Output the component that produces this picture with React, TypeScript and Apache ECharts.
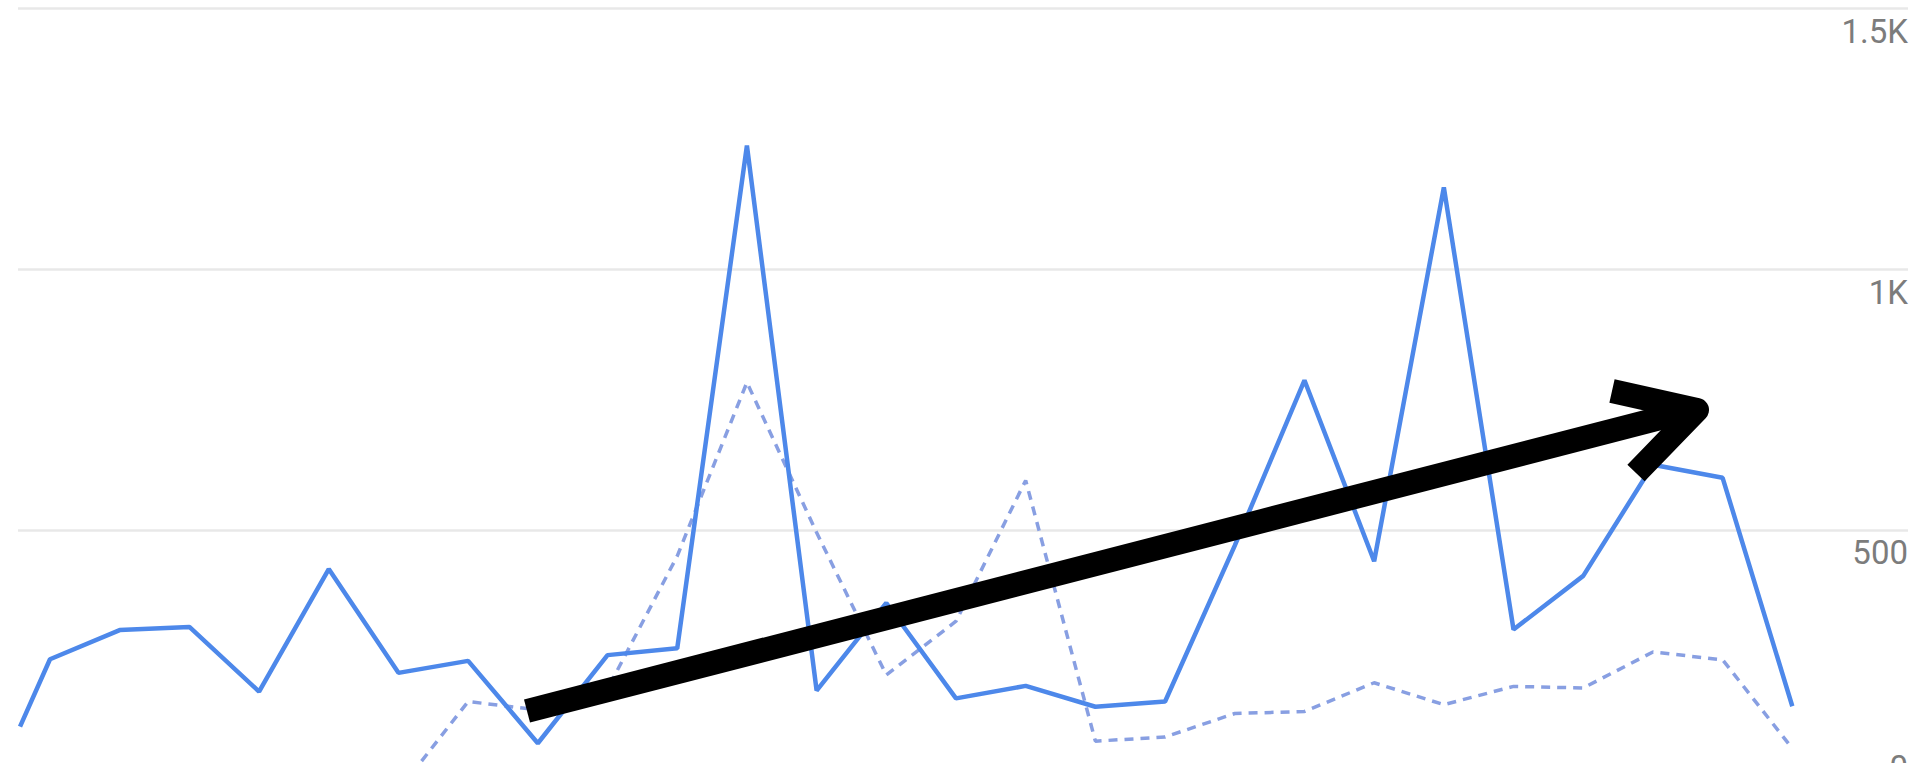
import React, { useEffect, useRef } from "react";
import * as echarts from "echarts";

// Position of each point along the day axis (first point is a partial day)
const dayIndex = [0.57, 1, 2, 3, 4, 5, 6, 7, 8, 9, 10, 11, 12, 13, 14, 15, 16, 17, 18, 19, 20, 21, 22, 23, 24, 25, 26];
// Current period (solid line)
const sessions = [123, 252, 308, 314, 190, 425, 226, 249, 91, 260, 273, 1237, 192, 360, 177, 201, 161, 171, 470, 787, 440, 1157, 309, 412, 625, 600, 162];
// Previous period (dashed line)
const prevSessions = [0, 0, 0, 0, 0, 0, 0, 171, 155, 195, 450, 783, 495, 222, 325, 595, 95, 103, 148, 152, 207, 165, 200, 197, 266, 251, 81];
// Y axis ticks
const yTicks = [0, 500, 1000, 1500];
const yTickLabels = ["0", "500", "1K", "1.5K"];

const CHART_H = 800;

export default function App() {
  const ref = useRef<HTMLDivElement>(null);

  useEffect(() => {
    if (!ref.current) return;
    const chart = echarts.init(ref.current, null, { renderer: "svg" });
    const fmt = (v: number) => {
      const i = yTicks.indexOf(v);
      return i >= 0 ? yTickLabels[i] : "";
    };
    const labelBase = {
      inside: true,
      margin: 0,
      fontSize: 33,
      fontFamily: "Roboto",
      color: "#7c7c7c",
      lineHeight: 46,
    };
    chart.setOption({
      animation: false,
      backgroundColor: "#ffffff",
      grid: { left: 18, right: 18, top: 8.5, bottom: CHART_H - 790.7 },
      xAxis: { type: "value", min: 0.541, max: 27.66, show: false },
      yAxis: [
        {
          type: "value",
          position: "right",
          min: 0,
          max: 1500,
          interval: 500,
          axisLine: { show: false },
          axisTick: { show: false },
          splitLine: { show: true, lineStyle: { color: "#e8e8e8", width: 2.5 } },
          axisLabel: { ...labelBase, verticalAlign: "top", formatter: (v: number) => (v === 0 ? "" : fmt(v)) },
        },
        {
          type: "value",
          position: "right",
          min: 0,
          max: 1500,
          interval: 500,
          axisLine: { show: false },
          axisTick: { show: false },
          splitLine: { show: false },
          axisLabel: { ...labelBase, verticalAlign: "bottom", formatter: (v: number) => (v === 0 ? fmt(v) : "") },
        },
      ],
      series: [
        {
          name: "Previous period",
          type: "line",
          yAxisIndex: 0,
          showSymbol: false,
          symbol: "none",
          data: dayIndex.map((d, i) => [d, prevSessions[i]]),
          lineStyle: { color: "#889fe2", width: 3.5, type: [9, 7] },
          z: 2,
        },
        {
          name: "Sessions",
          type: "line",
          yAxisIndex: 0,
          showSymbol: false,
          symbol: "none",
          data: dayIndex.map((d, i) => [d, sessions[i]]),
          lineStyle: { color: "#4d88ea", width: 4.5 },
          z: 3,
        },
      ],
      graphic: [
        {
          type: "polyline",
          z: 100,
          shape: { points: [[527, 711], [1688, 411]] },
          style: { stroke: "#000", lineWidth: 24, fill: null, lineCap: "butt" },
        },
        {
          type: "polyline",
          z: 100,
          shape: { points: [[1612, 391], [1697, 410], [1636, 473]] },
          style: { stroke: "#000", lineWidth: 24, fill: null, lineJoin: "round", lineCap: "butt" },
        },
      ],
    });
    return () => chart.dispose();
  }, []);

  return (
    <div style={{ position: "fixed", left: 0, top: 0, width: 1926, height: 763, overflow: "hidden", background: "#fff" }}>
      <div ref={ref} style={{ width: 1926, height: CHART_H }} />
    </div>
  );
}
